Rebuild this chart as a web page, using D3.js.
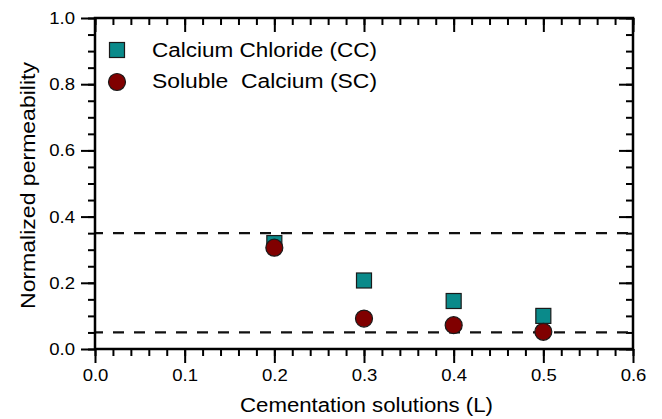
<!DOCTYPE html>
<html>
<head>
<meta charset="utf-8">
<script src="https://cdn.jsdelivr.net/npm/d3@7"></script>
<style>
  html, body { margin: 0; padding: 0; background: #fff; }
  svg { display: block; font-family: "Liberation Sans", Arial, sans-serif; }
</style>
</head>
<body>
<svg id="chart" width="662" height="419"></svg>
<script>
// Cementation solution volume (L)
const volumes = [0.2, 0.3, 0.4, 0.5];
// Normalized permeability for each treatment
const calciumChloride = [0.32, 0.207, 0.145, 0.100];
const solubleCalcium = [0.306, 0.092, 0.072, 0.052];
// Reference levels shown as dashed lines
const referenceLevels = [0.35, 0.05];
// Axis tick values
const xTicks = [0.0, 0.1, 0.2, 0.3, 0.4, 0.5, 0.6];
const yTicks = [0.0, 0.2, 0.4, 0.6, 0.8, 1.0];
const seriesNames = ["Calcium Chloride (CC)", "Soluble\u00a0 Calcium (SC)"];

const svg = d3.select("#chart");
const plotLeft = 95, plotRight = 633, plotTop = 18, plotBottom = 349;

const x = d3.scaleLinear().domain([0, 0.6]).range([plotLeft, plotRight]);
const y = d3.scaleLinear().domain([0, 1.0]).range([plotBottom, plotTop]);

const xMinor = d3.range(0, 0.6001, 0.02);
const yMinor = d3.range(0, 1.0001, 0.05);

const majorLen = 14, minorLen = 7;
const tickColor = "#000";

// Widen glyphs slightly: the typeface in this figure runs broad
function widen(sel, factor) {
  sel.each(function () {
    const w = this.getComputedTextLength();
    d3.select(this).attr("textLength", w * factor).attr("lengthAdjust", "spacingAndGlyphs");
  });
}

// minor ticks (no labels), then major ticks with optional labels
function drawAxis(axisFn, scale, transform, minorVals, majorVals, labels) {
  svg.append("g").attr("transform", transform)
    .call(axisFn(scale).tickValues(minorVals).tickSize(minorLen).tickFormat(""))
    .call(g => g.select(".domain").remove())
    .call(g => g.selectAll("line").attr("stroke", tickColor).attr("stroke-width", 2));
  const g = svg.append("g").attr("transform", transform)
    .call(axisFn(scale).tickValues(majorVals).tickSize(majorLen)
      .tickFormat(labels ? d3.format(".1f") : "").tickPadding(6))
    .call(g => g.select(".domain").remove())
    .call(g => g.selectAll("line").attr("stroke", tickColor).attr("stroke-width", 2));
  const t = g.selectAll("text").attr("font-size", 17).attr("fill", "#000")
    .attr("font-family", "'Liberation Sans', Arial, sans-serif");
  if (labels) widen(t, 1.09);
  return g;
}

// Left and bottom: outward ticks with labels; top and right: inward ticks
drawAxis(d3.axisLeft, y, `translate(${plotLeft},0)`, yMinor, yTicks, true);
drawAxis(d3.axisBottom, x, `translate(0,${plotBottom})`, xMinor, xTicks, true);
drawAxis(d3.axisBottom, x, `translate(0,${plotTop})`, xMinor, xTicks, false);
drawAxis(d3.axisLeft, y, `translate(${plotRight},0)`, yMinor, yTicks, false);

// Dashed reference lines
svg.selectAll(".ref").data(referenceLevels).join("line")
  .attr("x1", plotLeft).attr("x2", plotRight)
  .attr("y1", d => y(d)).attr("y2", d => y(d))
  .attr("stroke", "#111").attr("stroke-width", 2.2)
  .attr("stroke-dasharray", "11,10").attr("stroke-dashoffset", 3);

// Frame
svg.append("rect")
  .attr("x", plotLeft).attr("y", plotTop)
  .attr("width", plotRight - plotLeft).attr("height", plotBottom - plotTop)
  .attr("fill", "none").attr("stroke", "#000").attr("stroke-width", 2.5);

const sq = 15, r = 8.5;
const teal = "#0A8A8A", maroon = "#800000", edge = "#1a1a1a";

// Calcium chloride (squares)
svg.selectAll(".cc").data(volumes).join("rect")
  .attr("x", (d) => x(d) - sq / 2)
  .attr("y", (d, i) => y(calciumChloride[i]) - sq / 2)
  .attr("width", sq).attr("height", sq)
  .attr("fill", teal).attr("stroke", edge).attr("stroke-width", 1.2);

// Soluble calcium (circles)
svg.selectAll(".sc").data(volumes).join("circle")
  .attr("cx", d => x(d))
  .attr("cy", (d, i) => y(solubleCalcium[i]))
  .attr("r", r)
  .attr("fill", maroon).attr("stroke", edge).attr("stroke-width", 1.2);

// Legend
const leg = svg.append("g");
leg.append("rect").attr("x", 117 - sq / 2).attr("y", 50 - sq / 2)
  .attr("width", sq).attr("height", sq)
  .attr("fill", teal).attr("stroke", edge).attr("stroke-width", 1.2);
leg.append("circle").attr("cx", 117).attr("cy", 82).attr("r", r)
  .attr("fill", maroon).attr("stroke", edge).attr("stroke-width", 1.2);
leg.selectAll("text").data(seriesNames).join("text")
  .attr("x", 152).attr("y", (d, i) => 57 + i * 31)
  .attr("font-size", 19.5).attr("fill", "#000")
  .attr("textLength", 225).attr("lengthAdjust", "spacingAndGlyphs")
  .text(d => d);

// Axis titles
svg.append("text")
  .attr("x", 366.5).attr("y", 412)
  .attr("text-anchor", "middle").attr("font-size", 20)
  .attr("textLength", 253).attr("lengthAdjust", "spacingAndGlyphs")
  .text("Cementation solutions (L)");
svg.append("text")
  .attr("transform", `translate(35,185.5) rotate(-90)`)
  .attr("text-anchor", "middle").attr("font-size", 20)
  .attr("textLength", 247).attr("lengthAdjust", "spacingAndGlyphs")
  .text("Normalized permeability");
</script>
</body>
</html>
